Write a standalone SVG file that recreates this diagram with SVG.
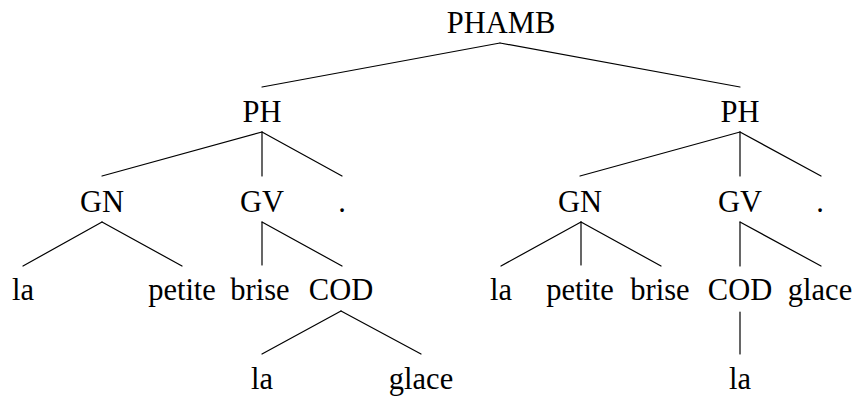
<svg xmlns="http://www.w3.org/2000/svg" width="858" height="398" viewBox="0 0 858 398">
  <style>
    text { font-family: "Liberation Serif", "DejaVu Serif", serif; font-size: 30.5px; fill: #000; text-anchor: middle; }
    .edge { stroke: #000; stroke-width: 1.2; fill: none; stroke-linecap: round; }
  </style>
  <rect width="858" height="398" fill="#fff"/>

  <!-- tree edges -->
  <g id="connectors">
    <!-- PHAMB -->
    <line class="edge" x1="500" y1="43" x2="262" y2="87"/>
    <line class="edge" x1="500" y1="43" x2="740" y2="87"/>
    <!-- left PH -->
    <line class="edge" x1="262" y1="132" x2="102" y2="176"/>
    <line class="edge" x1="262" y1="132" x2="262" y2="176"/>
    <line class="edge" x1="262" y1="132" x2="342" y2="176"/>
    <!-- left GN -->
    <line class="edge" x1="102" y1="222" x2="23" y2="266"/>
    <line class="edge" x1="102" y1="222" x2="182" y2="266"/>
    <!-- left GV -->
    <line class="edge" x1="262" y1="222" x2="262" y2="265"/>
    <line class="edge" x1="262" y1="222" x2="342" y2="266"/>
    <!-- left COD -->
    <line class="edge" x1="341" y1="311" x2="262" y2="354"/>
    <line class="edge" x1="341" y1="311" x2="421" y2="354"/>
    <!-- right PH -->
    <line class="edge" x1="740" y1="132" x2="580" y2="176"/>
    <line class="edge" x1="740" y1="132" x2="740" y2="176"/>
    <line class="edge" x1="740" y1="132" x2="821" y2="176"/>
    <!-- right GN -->
    <line class="edge" x1="581" y1="222" x2="501" y2="266"/>
    <line class="edge" x1="581" y1="222" x2="581" y2="265"/>
    <line class="edge" x1="581" y1="222" x2="661" y2="266"/>
    <!-- right GV -->
    <line class="edge" x1="740" y1="222" x2="740" y2="266"/>
    <line class="edge" x1="740" y1="222" x2="821" y2="266"/>
    <!-- right COD -->
    <line class="edge" x1="740" y1="312" x2="740" y2="354"/>
  </g>

  <!-- root -->
  <g id="n-phamb"><text x="501" y="33">PHAMB</text></g>

  <!-- left sentence -->
  <g id="n-ph1"><text x="262" y="122">PH</text></g>
  <g id="n-gn1"><text x="102" y="212">GN</text></g>
  <g id="n-gv1"><text x="262" y="212">GV</text></g>
  <g id="n-dot1"><text x="342" y="212">.</text></g>
  <g id="n-la1"><text x="23" y="300">la</text></g>
  <g id="n-petite1"><text x="182" y="300">petite</text></g>
  <g id="n-brise1"><text x="260" y="300">brise</text></g>
  <g id="n-cod1"><text x="341" y="300">COD</text></g>
  <g id="n-la2"><text x="262" y="389">la</text></g>
  <g id="n-glace1"><text x="421" y="389">glace</text></g>

  <!-- right sentence -->
  <g id="n-ph2"><text x="740" y="122">PH</text></g>
  <g id="n-gn2"><text x="580" y="212">GN</text></g>
  <g id="n-gv2"><text x="740" y="212">GV</text></g>
  <g id="n-dot2"><text x="820" y="212">.</text></g>
  <g id="n-la3"><text x="501" y="300">la</text></g>
  <g id="n-petite2"><text x="580" y="300">petite</text></g>
  <g id="n-brise2"><text x="660" y="300">brise</text></g>
  <g id="n-cod2"><text x="740" y="300">COD</text></g>
  <g id="n-glace2"><text x="820" y="300">glace</text></g>
  <g id="n-la4"><text x="740" y="389">la</text></g>
</svg>
